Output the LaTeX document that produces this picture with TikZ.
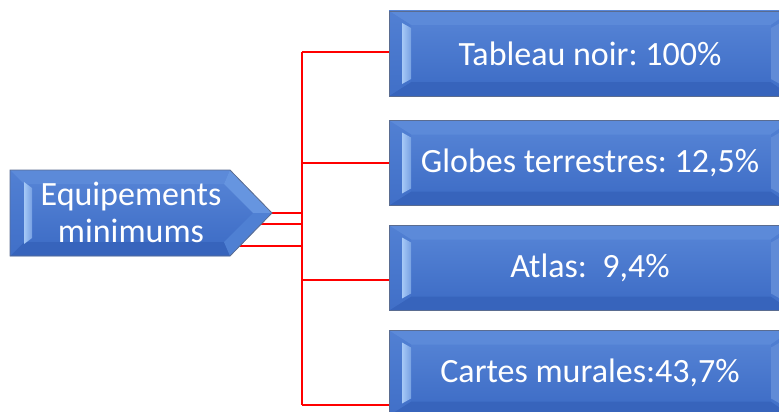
\documentclass[tikz,border=0pt]{standalone}
\usepackage{fontspec}
\setmainfont{Carlito}
\frenchspacing
\usetikzlibrary{calc}
\definecolor{btop}{HTML}{5886D7}
\definecolor{bbot}{HTML}{3B6AC4}
\definecolor{bedge}{HTML}{5A6C90}
\definecolor{blight}{HTML}{A6C9F7}
\definecolor{fTop}{HTML}{5C8AD9}
\definecolor{fBot}{HTML}{3764BC}
\definecolor{fSide}{HTML}{4877CD}
\definecolor{fUp}{HTML}{6695E0}
\definecolor{fLow}{HTML}{4F80D3}
\begin{document}
\begin{tikzpicture}[x=1pt,y=-1pt,
  redline/.style={draw=red,line width=2.8pt},
  boxtext/.style={text=white,font=\fontsize{34}{37}\selectfont},
  bevelbox/.style={boxtext,draw=bedge,line width=0.8pt,top color=btop,bottom color=bbot,
    minimum width=402pt,minimum height=85pt,inner sep=0pt,
    path picture={
      \fill[fTop] (path picture bounding box.north west) -- (path picture bounding box.north east)
        -- ([xshift=-20pt,yshift=-14pt]path picture bounding box.north east)
        -- ([xshift=22pt,yshift=-14pt]path picture bounding box.north west) -- cycle;
      \fill[fBot] (path picture bounding box.south west) -- (path picture bounding box.south east)
        -- ([xshift=-20pt,yshift=14pt]path picture bounding box.south east)
        -- ([xshift=22pt,yshift=14pt]path picture bounding box.south west) -- cycle;
      \shade[top color=btop!60!fSide,bottom color=bbot!60!fSide] (path picture bounding box.north west)
        -- ([xshift=22pt,yshift=-14pt]path picture bounding box.north west)
        -- ([xshift=22pt,yshift=14pt]path picture bounding box.south west)
        -- (path picture bounding box.south west) -- cycle;
      \shade[top color=btop!60!fSide,bottom color=bbot!60!fSide] (path picture bounding box.north east)
        -- ([xshift=-20pt,yshift=-14pt]path picture bounding box.north east)
        -- ([xshift=-20pt,yshift=14pt]path picture bounding box.south east)
        -- (path picture bounding box.south east) -- cycle;
      \shade[left color=blight,right color=blight!50!fSide]
        ([xshift=13pt,yshift=-12pt]path picture bounding box.north west)
        -- ([xshift=22pt,yshift=-17pt]path picture bounding box.north west)
        -- ([xshift=22pt,yshift=17pt]path picture bounding box.south west)
        -- ([xshift=13pt,yshift=12pt]path picture bounding box.south west) -- cycle;
      \fill[fSide!75!blight]
        ([xshift=-11pt,yshift=-12pt]path picture bounding box.north east)
        -- ([xshift=-20pt,yshift=-17pt]path picture bounding box.north east)
        -- ([xshift=-20pt,yshift=17pt]path picture bounding box.south east)
        -- ([xshift=-11pt,yshift=12pt]path picture bounding box.south east) -- cycle;
    }}]
\useasboundingbox (0,0) rectangle (779,412);
% target boxes
\node[bevelbox] (b1) at (590,53.5) {Tableau noir: 100\%};
\node[bevelbox] (b2) at (590,163) {Globes terrestres: 12,5\%};
\node[bevelbox] (b3) at (590,268) {Atlas:\ \ 9,4\%};
\node[bevelbox] (b4) at (590,373) {Cartes murales:43,7\%};
% connectors
\coordinate (bus) at (302,0);
\coordinate (s0) at (240,213);
\coordinate (s1) at (240,224);
\coordinate (s2) at (240,246);
\coordinate (e1) at ([yshift=1.5pt]b1.west);
\coordinate (e2) at (b2.west);
\coordinate (e3) at ([yshift=-12pt]b3.west);
\coordinate (e4) at ([yshift=-32pt]b4.west);
\draw[redline] (s0) -- (s0 -| bus);
\draw[redline] (s1) -- (s1 -| bus);
\draw[redline] (s2) -- (s2 -| bus);
\draw[redline] (e1 -| bus) -- (e4 -| bus);
\draw[redline] (e1 -| bus) -- (e1);
\draw[redline] (e2 -| bus) -- (e2);
\draw[redline] (e3 -| bus) -- (e3);
\draw[redline] (e4 -| bus) -- (e4);
% source arrow shape
\path[top color=btop,bottom color=bbot] (10,170) -- (230,170) -- (272,213) -- (230,256) -- (10,256) -- cycle;
\fill[fTop] (10,170) -- (230,170) -- (224,184) -- (24,184) -- cycle;
\fill[fBot] (10,256) -- (230,256) -- (224,242) -- (24,242) -- cycle;
\shade[top color=btop!60!fSide,bottom color=bbot!60!fSide] (10,170) -- (24,184) -- (24,242) -- (10,256) -- cycle;
\fill[fUp] (230,170) -- (272,213) -- (253,213) -- (224,184) -- cycle;
\fill[fLow] (272,213) -- (230,256) -- (224,242) -- (253,213) -- cycle;
\shade[left color=blight,right color=blight!50!fSide] (24,182) -- (32,188) -- (32,238) -- (24,244) -- cycle;
\draw[bedge,line width=0.8pt] (10,170) -- (230,170) -- (272,213) -- (230,256) -- (10,256) -- cycle;
\node[boxtext,align=center,inner sep=0pt] (src) at (131,212) {Equipements\\minimums};
\end{tikzpicture}
\end{document}
